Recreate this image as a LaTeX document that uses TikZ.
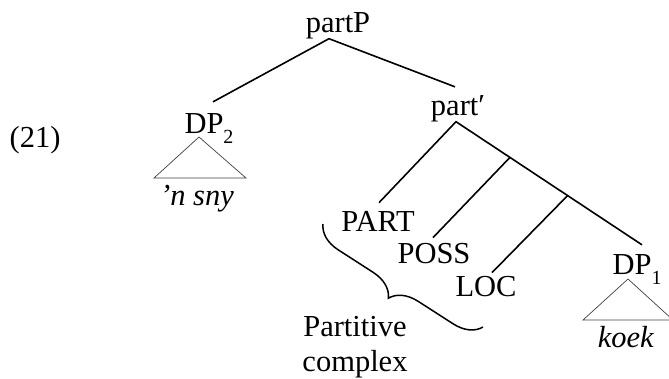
\documentclass[tikz,border=0pt]{standalone}
\usepackage{fontspec}
\setmainfont{Liberation Serif}
\usetikzlibrary{decorations.pathreplacing}
\newcommand{\dpsub}[1]{\raisebox{-10pt}{\fontsize{20}{20}\selectfont #1}}

\begin{document}
\begin{tikzpicture}[x=1pt,y=-1pt,
    lbl/.style={anchor=base,inner sep=0pt,font=\fontsize{30.5}{35}\selectfont},
    branch/.style={line width=1.6pt},
    roof/.style={line width=0.7pt,draw=black!75},
    brc/.style={line width=1.5pt,decorate,decoration={brace,amplitude=27pt,aspect=0.5}}]
  \useasboundingbox (0,0) rectangle (669,378);
  % labels
  \node[lbl] (ex) at (35,147) {(21)};
  \node[lbl] (partP) at (338,32) {partP};
  \node[lbl] (DP2) at (209,133) {DP\dpsub{2}};
  \node[lbl] (sny) at (197,205) {\textit{’n sny}};
  \node[lbl] (partbar) at (458,115) {part′};
  \node[lbl] (PART) at (378,231) {PART};
  \node[lbl] (POSS) at (434,263) {POSS};
  \node[lbl] (LOC) at (486,296) {LOC};
  \node[lbl] (DP1) at (637,274) {DP\dpsub{1}};
  \node[lbl] (koek) at (626,347) {\textit{koek}};
  \node[lbl] (pc1) at (355,336) {Partitive};
  \node[lbl] (pc2) at (355,371) {complex};
  % joints
  \coordinate (j0) at ([shift={(-9,0)}]partP.south);
  \coordinate (j1) at ([shift={(-2,0)}]partbar.south);
  \coordinate (e1) at ([shift={(5,-9)}]DP1.north);
  \path (j1) -- (e1) coordinate[pos=0.29] (c1) coordinate[pos=0.6] (c2);
  % branches
  \draw[branch] ([shift={(4,-11)}]DP2.north) -- (j0) -- ([shift={(-3,-8)}]partbar.north);
  \draw[branch] ([shift={(1,-8)}]PART.north) -- (j1) -- (e1);
  \draw[branch] (c1) -- ([shift={(-1,-5)}]POSS.north);
  \draw[branch] (c2) -- ([shift={(6,-3)}]LOC.north);
  % roofs
  \draw[roof] (154,178) -- (199,137) -- (246,178) -- cycle;
  \draw[roof] (583,320) -- (628,279) -- (673,320) -- cycle;
  % brace
  \draw[brc] (483,327) -- (323,224);
\end{tikzpicture}
\end{document}
